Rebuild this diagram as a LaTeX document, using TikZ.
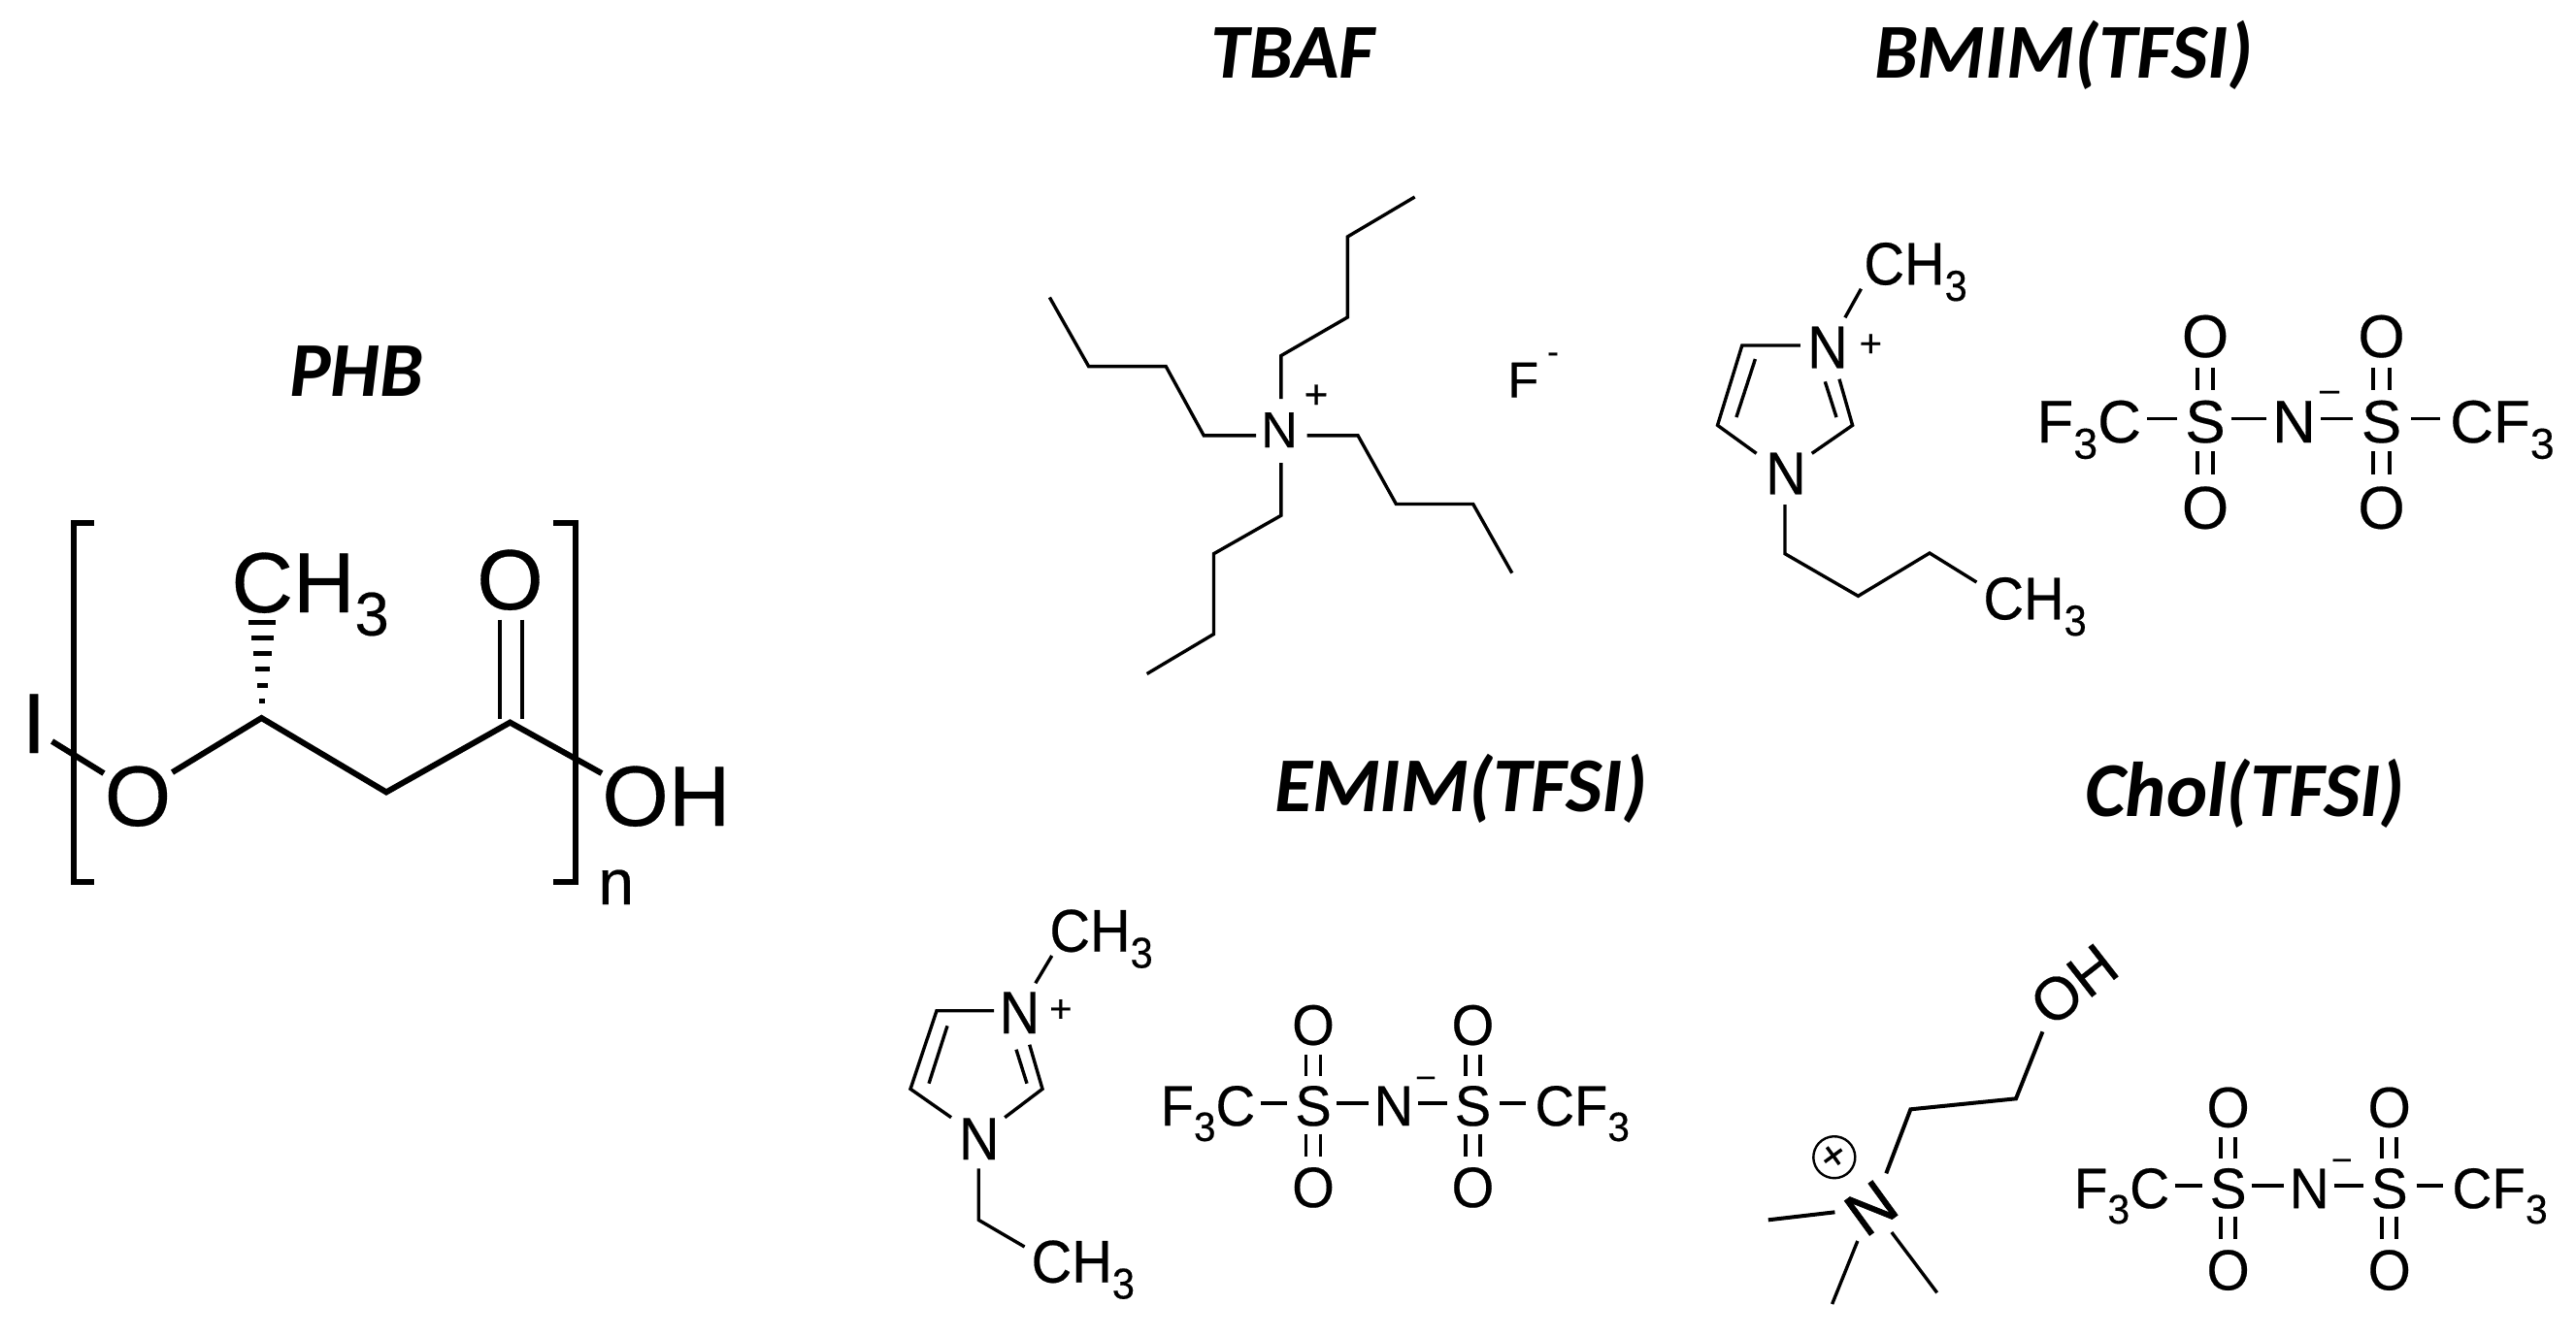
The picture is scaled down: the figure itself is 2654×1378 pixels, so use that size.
\documentclass[tikz,border=0pt]{standalone}
\usepackage{fontspec}
\setmainfont{Liberation Sans}[FakeBold=0.35]
\newfontfamily\heavyfam{Liberation Sans}[FakeBold=1.2]
\newfontfamily\titlefam{Carlito}
\newcommand\lowsub[1]{\raisebox{-.27em}{\scalebox{.72}{#1}}}
\newcommand\tfsi[5]{%
\begin{scope}[shift={(#2,#3)},xscale=#4,yscale=#5,transform shape,name prefix=#1-,
  every node/.append style={tfa}]
  \node[anchor=base west] (f3c) at (-174,23) {F\lowsub{3}C};
  \node[anchor=base] (s1) at (0,23) {S};
  \node[anchor=base] (n) at (91.4,23) {N};
  \node[anchor=base] (s2) at (181.5,23) {S};
  \node[anchor=base west] (cf3) at (251.8,23) {CF\lowsub{3}};
  \node[anchor=base] (o1) at (0,-65) {O};
  \node[anchor=base] (o2) at (181.5,-65) {O};
  \node[anchor=base] (o3) at (0,111.7) {O};
  \node[anchor=base] (o4) at (181.5,111.7) {O};
  \node[tfminus] (minus) at (128,-25) {–};
  \coordinate (a1) at (-60,-1.6); \coordinate (a2) at (-29.3,-1.6);
  \coordinate (b1) at (26.6,-1.6); \coordinate (b2) at (63,-1.6);
  \coordinate (c1) at (119,-1.6); \coordinate (c2) at (152,-1.6);
  \coordinate (d1) at (212,-1.6); \coordinate (d2) at (241.7,-1.6);
  \draw[tfbond] (a1)--(a2) (b1)--(b2) (c1)--(c2) (d1)--(d2);
  \foreach \sx/\nm in {0/u,181.5/v}{
    \foreach \sgn/\tag in {-8.25/l,8.25/r}{
      \coordinate (\nm\tag t1) at (\sx+\sgn,-54);
      \coordinate (\nm\tag t2) at (\sx+\sgn,-31.3);
      \coordinate (\nm\tag b1) at (\sx+\sgn,32);
      \coordinate (\nm\tag b2) at (\sx+\sgn,56.3);
      \draw[tfbond] (\nm\tag t1)--(\nm\tag t2) (\nm\tag b1)--(\nm\tag b2);
    }
  }
\end{scope}}
\tikzset{
  x=0.5pt,y=-0.5pt,
  big/.style={inner sep=0,font=\fontsize{44}{44}\selectfont},
  tb/.style={inner sep=0,font=\fontsize{26}{26}\selectfont},
  tfa/.style={inner sep=0,font=\fontsize{31}{31}\selectfont},
  tf/.style={inner sep=0,xscale=.93,font=\fontsize{31}{31}\selectfont},
  tfminus/.style={inner sep=0,font=\fontsize{18}{18}\selectfont},
  chg/.style={inner sep=0,font=\fontsize{20}{20}\selectfont},
  title/.style={inner sep=0,anchor=base,font=\titlefam\bfseries\itshape\fontsize{40}{40}\selectfont},
  bigbond/.style={line width=3pt,line cap=butt,line join=miter},
  thinbond/.style={line width=1.7pt,line join=miter},
  tfbond/.style={line width=1.8pt},
}
\begin{document}
\begin{tikzpicture}
\useasboundingbox[fill=white] (0,0) rectangle (2654,1378);
% titles
\node[title] (tphb) at (367,408) {PHB};
\node[title] (ttbaf) at (1332,80) {TBAF};
\node[title] (tbmim) at (2126,80) {BMIM(TFSI)};
\node[title] (temim) at (1505,836) {EMIM(TFSI)};
\node[title] (tchol) at (2313,841) {Chol(TFSI)};
% PHB
\node[big,anchor=base] (pi) at (35,776) {I};
\node[big,anchor=base] (po) at (142,851) {O};
\node[big,anchor=base west] (pme) at (238,631) {CH\lowsub{3}};
\node[big,anchor=base] (pod) at (525.5,628) {O};
\node[big,anchor=base west] (poh) at (620,851) {OH};
\node[anchor=base west,inner sep=0,font=\fontsize{33}{33}\selectfont] (pn) at (616,932) {n};
\coordinate (pa) at (53.6,764); \coordinate (pb) at (107,797);
\coordinate (pc) at (177.5,796); \coordinate (pd) at (269.4,740);
\coordinate (pe) at (398,816.4); \coordinate (pf) at (525.5,744.6);
\coordinate (pg) at (620,797);
\draw[bigbond] (pa)--(pb);
\draw[bigbond] (pc)--(pd)--(pe)--(pf)--(pg);
\coordinate (pd1) at (515,638.6); \coordinate (pd2) at (515,740.6);
\coordinate (pd3) at (538,638.6); \coordinate (pd4) at (538,740.6);
\draw[line width=2.2pt] (pd1)--(pd2) (pd3)--(pd4);
\coordinate (bl1) at (97,538.6); \coordinate (bl2) at (75.5,538.6);
\coordinate (bl3) at (75.5,909); \coordinate (bl4) at (97,909);
\coordinate (br1) at (570,538.6); \coordinate (br2) at (593,538.6);
\coordinate (br3) at (593,909); \coordinate (br4) at (570,909);
\draw[bigbond] (bl1)--(bl2)--(bl3)--(bl4);
\draw[bigbond] (br1)--(br2)--(br3)--(br4);
\foreach \yy/\hw in {641/14,657/11.5,673.7/9.7,689.8/7.6,706/5.6,722.4/3}
  \fill (270.4-\hw,\yy-2.5) rectangle (270.4+\hw,\yy+2.5);
% TBAF
\node[tb,anchor=base] (tn) at (1318,461) {N};
\node[chg,font=\fontsize{21}{21}\selectfont] (tplus) at (1356,408.6) {+};
\node[tb,anchor=base west] (tf) at (1553,409.6) {F};
\node[inner sep=0,font=\fontsize{18}{18}\selectfont] (tm) at (1600,369) {-};
\foreach \nm/\px/\py in {a1/1319.8/411,a2/1319.8/366.6,a3/1388.3/327,a4/1388.3/244,a5/1457.6/203,
  b1/1294.2/448.8,b2/1240.2/448.8,b3/1201.2/377.6,b4/1121.6/377.6,b5/1081.4/306.5,
  c1/1346.6/448.8,c2/1399/448.8,c3/1438.4/519.5,c4/1517.7/519.5,c5/1557.8/590.6,
  d1/1319.8/477.2,d2/1319.8/531.3,d3/1250.5/570.7,d4/1250.5/653.5,d5/1181.6/694.5}
  \coordinate (t\nm) at (\px,\py);
\draw[thinbond] (ta1)--(ta2)--(ta3)--(ta4)--(ta5);
\draw[thinbond] (tb1)--(tb2)--(tb3)--(tb4)--(tb5);
\draw[thinbond] (tc1)--(tc2)--(tc3)--(tc4)--(tc5);
\draw[thinbond] (td1)--(td2)--(td3)--(td4)--(td5);
% BMIM cation
\node[tf,anchor=base] (bn1) at (1883,379.3) {N};
\node[tf,anchor=base] (bn2) at (1840,509.3) {N};
\node[chg] (bplus) at (1927.4,356) {+};
\node[tf,anchor=base west] (bme) at (1920,293.3) {CH\lowsub{3}};
\node[tf,anchor=base west] (bbu) at (2043,638.3) {CH\lowsub{3}};
\foreach \nm/\px/\py in {a/1854.9/356,b/1794.8/356,c/1769.5/438.3,d/1809.6/467.3,e/1866.7/467.3,f/1908.6/438.3,g/1895/390.7,
  h/1808.4/370,i/1788.9/430,j/1880.3/393.3,k/1892/430,l/1900.9/327.3,m/1917.4/297.7,
  n/1839/520,o/1839/570.7,p/1914.4/614.3,q/1988/570,r/2036.4/600}
  \coordinate (b\nm) at (\px,\py);
\draw[thinbond] (ba)--(bb)--(bc)--(bd);
\draw[thinbond] (be)--(bf)--(bg);
\draw[thinbond] (bh)--(bi);
\draw[thinbond] (bj)--(bk);
\draw[thinbond] (bl)--(bm);
\draw[thinbond] (bn)--(bo)--(bp)--(bq)--(br);
\tfsi{bt}{2272}{433}{1}{1}
% EMIM cation
\node[tf,anchor=base] (en1) at (1050.5,1065) {N};
\node[tf,anchor=base] (en2) at (1008.7,1195) {N};
\node[chg] (eplus) at (1092.9,1041.7) {+};
\node[tf,anchor=base west] (eme) at (1081,980.7) {CH\lowsub{3}};
\node[tf,anchor=base west] (eet) at (1062.2,1321.7) {CH\lowsub{3}};
\foreach \nm/\px/\py in {a/1024/1041.7,b/965/1041.7,c/938/1122.3,d/980/1151.7,e/1035.2/1151.7,f/1074/1122.3,g/1060.7/1076.7,
  h/976/1057.3,i/957/1116.7,j/1047/1081.7,k/1058/1116.7,l/1066.8/1013.3,m/1083.7/985,
  n/1008.2/1204.3,o/1008.2/1257.3,p/1055.6/1285}
  \coordinate (e\nm) at (\px,\py);
\draw[thinbond] (ea)--(eb)--(ec)--(ed);
\draw[thinbond] (ee)--(ef)--(eg);
\draw[thinbond] (eh)--(ei);
\draw[thinbond] (ej)--(ek);
\draw[thinbond] (el)--(em);
\draw[thinbond] (en)--(eo)--(ep);
\tfsi{et}{1353}{1138.3}{.906}{.947}
% Choline cation
\node[inner sep=0,rotate=36,font=\heavyfam\fontsize{32}{32}\selectfont] (cn) at (1927.7,1245) {N};
\node[inner sep=0,rotate=38,font=\fontsize{31}{31}\selectfont] (coh) at (2136.7,1015) {OH};
\node[circle,draw,line width=1.2pt,minimum size=21.5pt,inner sep=0,rotate=36,font=\fontsize{22}{22}\selectfont] (cplus) at (1889.8,1192.7) {+};
\foreach \nm/\px/\py in {a/1943.3/1209.3,b/1968.4/1143.3,c/2077/1132.3,d/2104.4/1063.3,
  e/1890.4/1249.3,f/1821.8/1257.3,g/1913.8/1279,h/1887.6/1344,i/1948.9/1270,j/1995.7/1332.3}
  \coordinate (c\nm) at (\px,\py);
\draw[line width=2pt,line join=miter] (ca)--(cb)--(cc)--(cd);
\draw[line width=2pt] (ce)--(cf);
\draw[thinbond] (cg)--(ch);
\draw[thinbond] (ci)--(cj);
\tfsi{ct}{2295.6}{1223.3}{.915}{.949}
\end{tikzpicture}
\end{document}
